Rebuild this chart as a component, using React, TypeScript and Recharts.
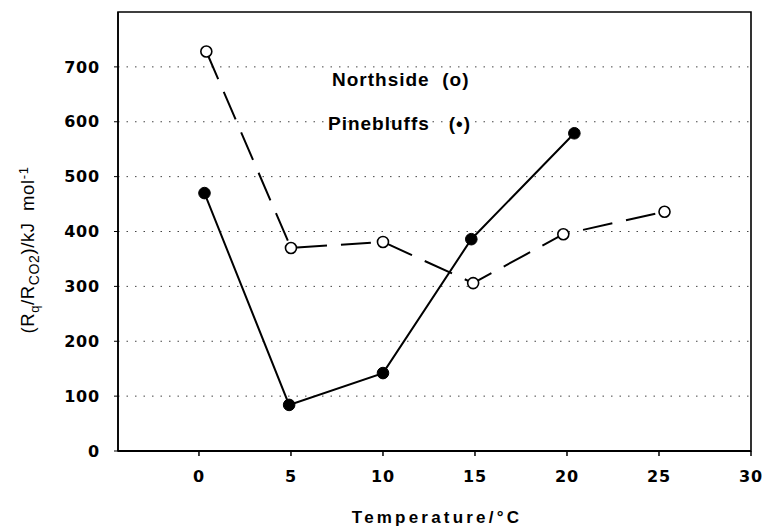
import React from 'react';
import { LineChart, Line, XAxis, YAxis, CartesianGrid, ReferenceArea } from 'recharts';

const northTemps = [0.4, 5, 10, 14.9, 19.8, 25.3];
const northValues = [728, 370, 381, 306, 395, 436];
const pineTemps = [0.3, 4.9, 10, 14.8, 20.4];
const pineValues = [470, 84, 142, 386, 579];
const xTicks = [0, 5, 10, 15, 20, 25, 30];
const yTicks = [0, 100, 200, 300, 400, 500, 600, 700];
const xDomain: [number, number] = [-4.4, 30];
const yDomain: [number, number] = [0, 800];

const northData = northTemps.map((t, i) => ({ t, v: northValues[i] }));
const pineData = pineTemps.map((t, i) => ({ t, v: pineValues[i] }));

const FONT = '"Liberation Sans", Arial, sans-serif';
const TICK_FONT = '"DejaVu Sans", sans-serif';

const OpenDot = (props: any) => {
  const { cx, cy } = props;
  if (cx == null || cy == null) return null;
  return <circle cx={cx} cy={cy} r={5.5} fill="#fff" stroke="#000" strokeWidth={1.6} />;
};
const FilledDot = (props: any) => {
  const { cx, cy } = props;
  if (cx == null || cy == null) return null;
  return <circle cx={cx} cy={cy} r={5.8} fill="#000" stroke="#000" strokeWidth={1} />;
};

const YLabel = () => (
  <text
    transform="translate(34,250) rotate(-90)"
    textAnchor="middle"
    fontFamily={FONT}
    fontSize={18.5}
    fill="#000"
    letterSpacing={0.6}
  >
    (R<tspan dy={5} fontSize={13}>q</tspan>
    <tspan dy={-5}>/R</tspan>
    <tspan dy={5} fontSize={14}>CO2</tspan>
    <tspan dy={-5}>)/kJ{'\u00a0\u00a0'}mol</tspan>
    <tspan dy={-6} fontSize={13}>-1</tspan>
  </text>
);

export default function App() {
  return (
    <div style={{ position: 'absolute', left: 0, top: 0, width: 762, height: 532, background: '#fff' }}>
      <LineChart
        width={762}
        height={532}
        margin={{ top: 12, right: 11, left: 0, bottom: 0 }}
      >
        <CartesianGrid
          horizontal
          vertical={false}
          stroke="#444"
          strokeDasharray="1.5 7"
          horizontalValues={[100, 200, 300, 400, 500, 600, 700]}
        />
        <ReferenceArea
          x1={xDomain[0]}
          x2={xDomain[1]}
          y1={yDomain[0]}
          y2={yDomain[1]}
          fill="none"
          fillOpacity={0}
          stroke="#000"
          strokeWidth={1.6}
          ifOverflow="visible"
        />
        <XAxis
          type="number"
          dataKey="t"
          domain={xDomain}
          ticks={xTicks}
          allowDataOverflow
          height={81}
          tickSize={5}
          tickMargin={15}
          axisLine={{ stroke: '#000', strokeWidth: 2 }}
          tickLine={{ stroke: '#000', strokeWidth: 1.5 }}
          tick={{ fill: '#000', fontSize: 16, fontWeight: 'bold', fontFamily: TICK_FONT, letterSpacing: 0.8 }}
        />
        <YAxis
          type="number"
          domain={yDomain}
          ticks={yTicks}
          allowDataOverflow
          width={118}
          tickSize={4}
          tickMargin={14}
          axisLine={{ stroke: '#000', strokeWidth: 1.5 }}
          tickLine={{ stroke: '#000', strokeWidth: 1 }}
          tick={{ fill: '#000', fontSize: 16, fontWeight: 'bold', fontFamily: TICK_FONT, letterSpacing: 0.8 }}
        />
        <Line
          data={northData}
          dataKey="v"
          type="linear"
          stroke="#000"
          strokeWidth={2}
          strokeDasharray="30 14"
          dot={<OpenDot />}
          activeDot={false}
          isAnimationActive={false}
        />
        <Line
          data={pineData}
          dataKey="v"
          type="linear"
          stroke="#000"
          strokeWidth={2}
          dot={<FilledDot />}
          activeDot={false}
          isAnimationActive={false}
        />
      </LineChart>
      <svg
        width={762}
        height={532}
        style={{ position: 'absolute', left: 0, top: 0, pointerEvents: 'none' }}
      >
        <YLabel />
        <text x={332} y={86} fontFamily={FONT} fontSize={19} fontWeight="bold" fill="#000" letterSpacing={1}>
          Northside{'\u00a0\u00a0'}(o)
        </text>
        <text x={328} y={130} fontFamily={FONT} fontSize={19} fontWeight="bold" fill="#000" letterSpacing={1}>
          Pinebluffs{'\u00a0\u00a0\u00a0'}(•)
        </text>
        <text x={437} y={523} textAnchor="middle" fontFamily={FONT} fontSize={17} fontWeight="bold" fill="#000" letterSpacing={3.2}>
          Temperature/°C
        </text>
      </svg>
    </div>
  );
}
